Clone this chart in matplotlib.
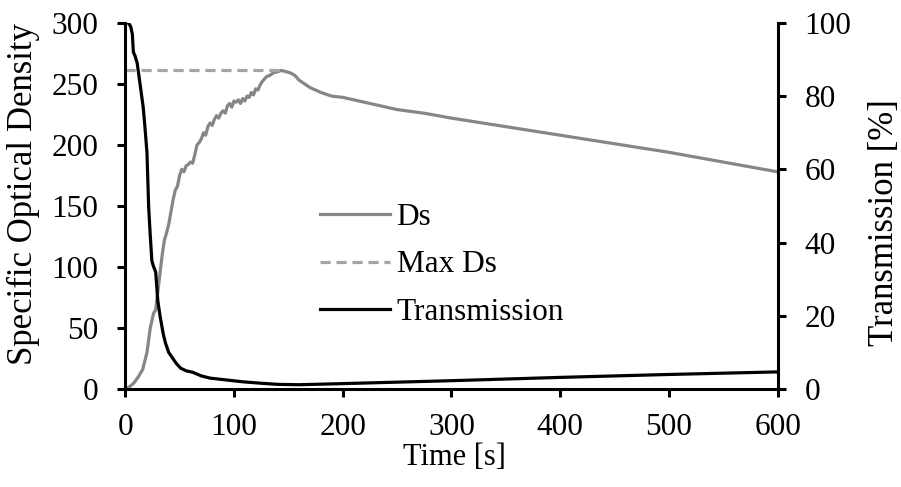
import matplotlib.pyplot as plt

plt.rcParams['font.family'] = ['Liberation Serif', 'DejaVu Serif']

# Specific optical density over time
t_ds = [0, 4, 8, 12, 16, 20, 23, 26, 28, 30, 32, 34, 36, 38, 40, 42, 44, 46,
        48, 50, 52, 54, 56, 58, 60, 62, 64, 66, 68, 70, 72, 74, 76, 78, 80, 82,
        84, 86, 88, 90, 92, 94, 96, 98, 100, 102, 104, 106, 108, 110, 112, 114,
        116, 118, 120, 122, 124, 126, 128, 130, 133, 136, 140, 144, 148, 152,
        156, 160, 165, 170, 175, 180, 190, 200, 225, 250, 275, 300, 350, 400,
        450, 500, 550, 600]
ds = [0, 2, 5, 10, 16, 30, 50, 62, 65, 80, 95, 110, 122, 128, 135, 145, 155,
      163, 166, 175, 180, 178, 183, 184, 186, 185, 192, 200, 202, 205, 210, 208,
      215, 218, 216, 221, 224, 222, 226, 228, 226, 232, 234, 231, 236, 235, 237,
      234, 238, 236, 240, 239, 243, 241, 246, 245, 249, 252, 254, 256, 257, 259,
      260, 261, 260, 259, 257, 253, 250, 247, 245, 243, 240, 239, 234, 229, 226,
      222, 215, 208, 201, 194, 186, 178]
max_ds = 261
t_max = [0, 145]

# Light transmission over time
t_tr = [0, 3, 5, 6.5, 7.5, 9, 11, 14, 16.5, 18, 20, 21.5, 23, 24.5, 26, 28, 30,
        32, 35, 37, 40, 43, 47, 51, 56, 62, 70, 78, 90, 108, 125, 140, 160, 200,
        300, 400, 500, 600]
tr = [100, 100, 99, 97, 92, 91, 89, 82.5, 77, 72, 64.5, 50, 42, 35, 33.5, 32,
      24, 20, 15, 12.6, 10, 8.7, 7, 5.7, 5, 4.6, 3.6, 3, 2.6, 2, 1.6, 1.3, 1.2,
      1.5, 2.3, 3.2, 4.0, 4.7]

fig, ax = plt.subplots(figsize=(9.01, 4.87), dpi=100)
fig.subplots_adjust(left=0.139, right=0.863, top=0.953, bottom=0.201)
ax2 = ax.twinx()

l1, = ax.plot(t_ds, ds, color='#868686', lw=2.3, label='Ds')
l2, = ax.plot(t_max, [max_ds, max_ds], color='#a6a6a6', lw=2.3,
              ls=(0, (3.2, 1.8)), label='Max Ds')
l3, = ax2.plot(t_tr, tr, color='black', lw=2.3, label='Transmission')

ax.set_xlim(0, 600)
ax.set_ylim(0, 300)
ax2.set_ylim(0, 100)
ax.set_xticks(range(0, 601, 100))
ax.set_yticks(range(0, 301, 50))
ax2.set_yticks(range(0, 101, 20))

fs = 22.5
for a in (ax, ax2):
    a.spines['top'].set_visible(False)
    for s in a.spines.values():
        s.set_linewidth(2.2)
    a.tick_params(direction='out', length=6, width=2.2, labelsize=fs)
ax.tick_params(axis='y', pad=13.5)
ax.tick_params(axis='x', pad=11)
ax2.tick_params(axis='y', pad=13.5)
ax.spines['right'].set_visible(False)
ax2.spines['left'].set_visible(False)
ax2.spines['bottom'].set_visible(False)

ax.set_xlabel('Time [s]', fontsize=22)
ax.set_ylabel('Specific Optical Density', fontsize=25)
ax2.set_ylabel('Transmission [%]', fontsize=25)
ax.xaxis.set_label_coords(0.504, -0.146)
ax.yaxis.set_label_coords(-0.130, 0.533)
ax2.yaxis.set_label_coords(1.138, 0.454)

ax2.legend(handles=[l1, l2, l3], loc='center left',
           bbox_to_anchor=(0.2986, 0.339), frameon=False, fontsize=fs,
           handlelength=2.25, handletextpad=0.2, labelspacing=0.58,
           borderpad=0, borderaxespad=0)

plt.savefig('out.png', dpi=100)
